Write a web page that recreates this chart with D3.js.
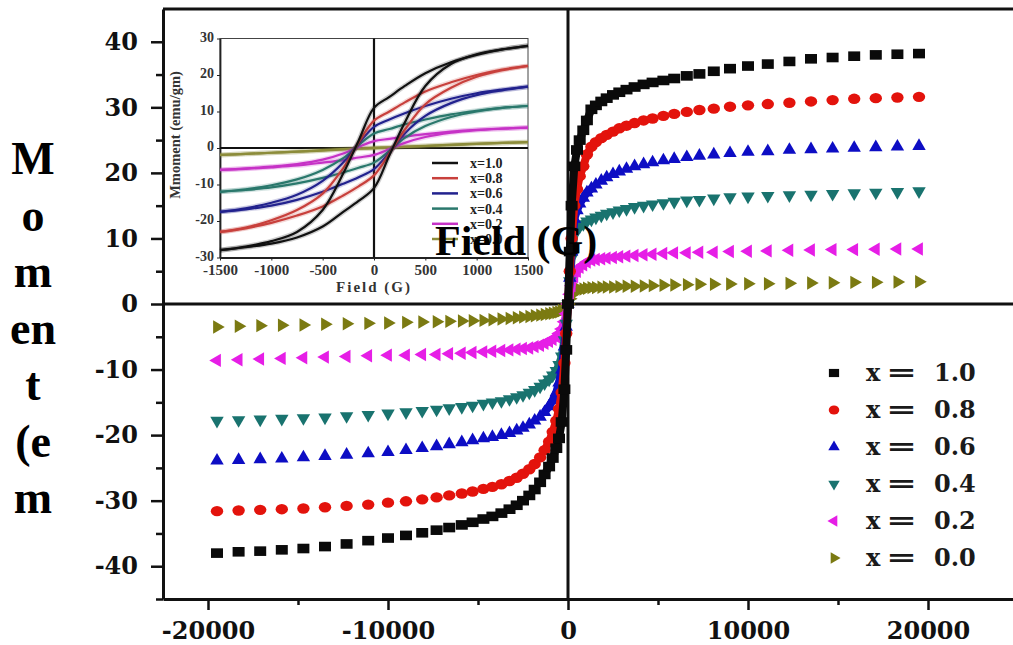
<!DOCTYPE html>
<html lang="en">
<head>
<meta charset="UTF-8">
<title>Moment vs Field</title>
<script src="https://cdnjs.cloudflare.com/ajax/libs/d3/7.8.5/d3.min.js"></script>
<style>
    body { margin: 0; background: #fff; }
    svg { display: block; }
    .axis path, .axis line { stroke: #111; }
    .axis text { font-family: "DejaVu Serif", serif; font-weight: bold; font-size: 24px; fill: #111; }
    .serif { font-family: "Liberation Serif", "Times New Roman", serif; font-weight: bold; }
    .inset-axis text { font-family: "Liberation Serif", serif; font-weight: bold; font-size: 14px; fill: #333; }
</style>
</head>
<body>
<svg id="chart" width="1013" height="645"></svg>
<script>
// main plot: field (G) and moment (emu/gm) for each composition
const fields = [-19500, -18300, -17100, -15900, -14700, -13500, -12300, -11100,
    -10000, -9000, -8100, -7300, -6600, -5900, -5300, -4700,
    -4200, -3700, -3250, -2850, -2500, -2150, -1850, -1550,
    -1300, -1050, -850, -650, -500, -350, -200, -100,
    0,
    100, 200, 350, 500, 650, 850, 1050, 1300,
    1550, 1850, 2150, 2500, 2850, 3250, 3700, 4200,
    4700, 5300, 5900, 6600, 7300, 8100, 9000, 10000,
    11100, 12300, 13500, 14700, 15900, 17100, 18300, 19500];

const momentX10 = [-38.0, -37.8, -37.7, -37.5, -37.3, -37.0, -36.6, -36.1,
    -35.7, -35.3, -34.9, -34.5, -34.1, -33.7, -33.3, -32.8,
    -32.4, -31.9, -31.3, -30.7, -30.0, -29.2, -28.3, -27.2,
    -26.0, -24.8, -23.5, -22.0, -20.5, -18.0, -13.0, -7.0,
    0,
    8, 15, 21, 23.5, 25, 26.5, 28, 29.7,
    30.3, 30.9, 31.4, 31.9, 32.3, 32.7, 33.1, 33.5,
    33.8, 34.1, 34.4, 34.8, 35.1, 35.5, 35.9, 36.3,
    36.6, 37.0, 37.4, 37.6, 37.8, 38.0, 38.1, 38.2];
const momentX08 = [-31.6, -31.5, -31.4, -31.3, -31.2, -31.0, -30.8, -30.6,
    -30.3, -30.1, -29.8, -29.5, -29.2, -28.9, -28.6, -28.2,
    -27.9, -27.5, -27.0, -26.5, -25.9, -25.2, -24.4, -23.4,
    -22.3, -21.0, -19.5, -17.8, -16.0, -13.5, -9.0, -4.5,
    0,
    5, 10, 15, 17.5, 19.5, 21, 22.8, 24,
    24.7, 25.3, 25.8, 26.3, 26.8, 27.2, 27.6, 28,
    28.3, 28.7, 29, 29.3, 29.6, 29.8, 30.1, 30.3,
    30.5, 30.7, 30.9, 31.1, 31.3, 31.4, 31.5, 31.6];
const momentX06 = [-23.9, -23.8, -23.7, -23.6, -23.4, -23.2, -23.0, -22.8,
    -22.6, -22.3, -22.0, -21.7, -21.4, -21.1, -20.8, -20.5,
    -20.3, -20.0, -19.7, -19.3, -18.9, -18.4, -17.8, -17.2,
    -16.5, -15.6, -14.7, -13.5, -12.0, -10.0, -6.5, -3.5,
    0,
    4, 8, 13, 14.3, 15.3, 16.2, 17, 17.6,
    18.2, 18.8, 19.3, 19.8, 20.2, 20.6, 21, 21.3,
    21.6, 21.9, 22.1, 22.4, 22.6, 22.8, 23, 23.2,
    23.3, 23.5, 23.6, 23.7, 23.8, 23.9, 24, 24.1];
const momentX04 = [-17.8, -17.7, -17.6, -17.5, -17.4, -17.3, -17.1, -16.9,
    -16.7, -16.5, -16.3, -16.1, -15.9, -15.7, -15.5, -15.2,
    -15.0, -14.8, -14.5, -14.2, -13.9, -13.5, -13.1, -12.6,
    -12.1, -11.5, -10.9, -10.2, -9.3, -8.0, -5.5, -3.0,
    0,
    3.5, 7, 10.5, 11.3, 11.8, 12.2, 12.6, 12.9,
    13.2, 13.5, 13.8, 14, 14.3, 14.5, 14.8, 15,
    15.2, 15.4, 15.6, 15.8, 15.9, 16.1, 16.3, 16.4,
    16.5, 16.6, 16.7, 16.8, 16.9, 17, 17.1, 17.2];
const momentX02 = [-8.6, -8.5, -8.4, -8.3, -8.2, -8.1, -8.0, -7.9,
    -7.8, -7.8, -7.7, -7.7, -7.6, -7.5, -7.4, -7.3,
    -7.2, -7.1, -7.0, -6.9, -6.8, -6.7, -6.5, -6.3,
    -6.0, -5.7, -5.4, -5.0, -4.5, -3.8, -2.7, -1.5,
    0,
    1.5, 2.8, 4.2, 5, 5.6, 6, 6.4, 6.7,
    6.8, 6.9, 7, 7.1, 7.2, 7.3, 7.4, 7.5,
    7.6, 7.7, 7.8, 7.8, 7.9, 7.9, 8, 8.05,
    8.1, 8.2, 8.25, 8.3, 8.3, 8.35, 8.4, 8.4];
const momentX00 = [-3.5, -3.4, -3.3, -3.25, -3.2, -3.1, -3.0, -2.95,
    -2.9, -2.8, -2.75, -2.7, -2.65, -2.6, -2.55, -2.5,
    -2.4, -2.3, -2.2, -2.1, -2.0, -1.9, -1.8, -1.7,
    -1.6, -1.5, -1.4, -1.3, -1.2, -1.0, -0.8, -0.5,
    0,
    0.8, 1.4, 1.9, 2.1, 2.2, 2.3, 2.4, 2.5,
    2.5, 2.55, 2.6, 2.6, 2.65, 2.7, 2.7, 2.75,
    2.8, 2.85, 2.9, 2.95, 3, 3, 3.05, 3.1,
    3.1, 3.15, 3.2, 3.25, 3.3, 3.3, 3.35, 3.4];

const compositions = ["1.0", "0.8", "0.6", "0.4", "0.2", "0.0"];
const markerColors = ["#0a0a0a", "#e3130c", "#0d0dc4", "#19736f", "#e61ee6", "#7b7a12"];
const markerShapes = ["square", "circle", "up", "down", "left", "right"];

const yTicks = [-40, -30, -20, -10, 0, 10, 20, 30, 40];
const yMinor = [-45, -35, -25, -15, -5, 5, 15, 25, 35];
const xTicks = [-20000, -10000, 0, 10000, 20000];
const xMinor = [-15000, -5000, 5000, 15000];

// inset: hysteresis loops in the low field range
const insetFieldDown = [1500, 1250, 1000, 750, 500, 300, 150, 0, -150, -300, -500, -750, -1000, -1250, -1500];
const insetFieldUp = [-1500, -1250, -1000, -750, -500, -300, -150, 0, 150, 300, 500, 750, 1000, 1250, 1500];
const loopDownX10 = [28, 27, 25.5, 23.5, 20.5, 17, 14, 11, 2, -7, -17, -23, -25.5, -27, -28];
const loopUpX10 = [-28, -27.2, -26.2, -24.5, -21.5, -17.5, -14.5, -11, -2, 7, 17, 23, 25.7, 27, 28];
const loopDownX08 = [22.5, 21.5, 20, 18, 15.5, 12.5, 10, 7.5, 1.5, -5.5, -12.5, -17, -19.8, -21.8, -23];
const loopUpX08 = [-23, -22, -20.5, -18.5, -16, -13, -10.5, -7.5, -1.5, 5, 12, 16.5, 19.5, 21.3, 22.5];
const loopDownX06 = [16.8, 16, 15, 13.5, 11.5, 9.5, 7.8, 5.8, 1.2, -4, -9, -12.8, -15, -16.5, -17.5];
const loopUpX06 = [-17.5, -16.8, -15.8, -14.2, -12, -9.8, -8, -5.8, -1.2, 4, 8.8, 12.3, 14.5, 15.8, 16.8];
const loopDownX04 = [11.5, 11, 10.2, 9.2, 7.8, 6.5, 5.2, 4, 0.8, -2.8, -6, -8.6, -10.2, -11.3, -12];
const loopUpX04 = [-12, -11.5, -10.8, -9.7, -8.2, -6.7, -5.4, -4, -0.8, 2.8, 6, 8.5, 10, 11, 11.5];
const loopDownX02 = [5.6, 5.3, 5, 4.5, 3.8, 3.1, 2.5, 1.9, 0.3, -1.5, -3.2, -4.4, -5.1, -5.6, -6];
const loopUpX02 = [-6, -5.7, -5.3, -4.8, -4, -3.3, -2.6, -1.9, -0.3, 1.4, 3, 4.2, 4.9, 5.3, 5.6];
const loopDownX00 = [1.6, 1.4, 1.2, 0.9, 0.6, 0.4, 0.2, 0.1, -0.1, -0.3, -0.6, -1, -1.3, -1.6, -1.9];
const loopUpX00 = [-1.9, -1.6, -1.3, -1, -0.7, -0.4, -0.2, -0.1, 0.1, 0.3, 0.5, 0.8, 1.1, 1.4, 1.6];

const insetColors = ["#111111", "#c8403c", "#22228e", "#2a786c", "#c632c6", "#8c8c3a"];
const insetYTicks = [-30, -20, -10, 0, 10, 20, 30];
const insetXTicks = [-1500, -1000, -500, 0, 500, 1000, 1500];

const mainMoments = [momentX10, momentX08, momentX06, momentX04, momentX02, momentX00];
const loopsDown = [loopDownX10, loopDownX08, loopDownX06, loopDownX04, loopDownX02, loopDownX00];
const loopsUp = [loopUpX10, loopUpX08, loopUpX06, loopUpX04, loopUpX02, loopUpX00];

const plain = d => String(d);   // keep "-20000" style labels

const svg = d3.select("#chart");
svg.append("rect").attr("width", 1013).attr("height", 645).attr("fill", "#fff");

const x = d3.scaleLinear().domain([-22500, 25000]).range([163, 1018]);
const y = d3.scaleLinear().domain([-45, 45]).range([599, 9]);

// frame lines
svg.append("line").attr("x1", 163).attr("x2", 1013).attr("y1", 9).attr("y2", 9)
    .attr("stroke", "#111").attr("stroke-width", 3);

// minor ticks first
svg.append("g").attr("class", "axis").attr("transform", "translate(163,0)")
    .call(d3.axisLeft(y).tickValues(yMinor).tickSize(7).tickFormat("").tickSizeOuter(0))
    .call(g => g.selectAll("line").attr("stroke-width", 2.5))
    .call(g => g.select(".domain").remove());
svg.append("g").attr("class", "axis").attr("transform", "translate(0,599)")
    .call(d3.axisBottom(x).tickValues(xMinor).tickSize(6).tickFormat("").tickSizeOuter(0))
    .call(g => g.selectAll("line").attr("stroke-width", 2.5))
    .call(g => g.select(".domain").remove());

const yAxis = svg.append("g").attr("class", "axis").attr("transform", "translate(163,0)")
    .call(d3.axisLeft(y).tickValues(yTicks).tickFormat(plain).tickSize(12).tickPadding(13).tickSizeOuter(0));
yAxis.selectAll("line").attr("stroke-width", 2.5);
yAxis.select(".domain").attr("stroke-width", 3);

const xAxis = svg.append("g").attr("class", "axis").attr("transform", "translate(0,599)")
    .call(d3.axisBottom(x).tickValues(xTicks).tickFormat(plain).tickSize(11).tickPadding(12).tickSizeOuter(0));
xAxis.selectAll("line").attr("stroke-width", 2.5);
xAxis.select(".domain").attr("stroke-width", 3);

// zero lines
svg.append("line").attr("x1", 163).attr("x2", 1013).attr("y1", y(0)).attr("y2", y(0))
    .attr("stroke", "#111").attr("stroke-width", 3);
svg.append("line").attr("x1", x(0)).attr("x2", x(0)).attr("y1", 9).attr("y2", 599)
    .attr("stroke", "#111").attr("stroke-width", 3);

function symbolPath(shape, size) {
    const rot = {up: 0, down: 180, left: -90, right: 90}[shape];
    return {d: d3.symbol(d3.symbolTriangle, size)(), rot: rot};
}

function drawMarker(g, shape, color, cx, cy, scale) {
    if (shape === "square") {
        g.append("rect").attr("x", cx - 6 * scale).attr("y", cy - 4.8 * scale)
            .attr("width", 12 * scale).attr("height", 9.6 * scale).attr("fill", color);
    } else if (shape === "circle") {
        g.append("ellipse").attr("cx", cx).attr("cy", cy)
            .attr("rx", 6.2 * scale).attr("ry", 5.2 * scale).attr("fill", color);
    } else {
        const s = symbolPath(shape, 78 * scale * scale);
        g.append("path").attr("d", s.d)
            .attr("transform", `translate(${cx},${cy}) rotate(${s.rot})`)
            .attr("fill", color);
    }
}

// main series, drawn from x = 0.0 up to x = 1.0
const lineNear = d3.line()
    .defined(d => Math.abs(d.h) <= 1300)
    .x(d => x(d.h)).y(d => y(d.m));

for (let i = compositions.length - 1; i >= 0; i--) {
    const pts = fields.map((h, j) => ({h: h, m: mainMoments[i][j]}));
    const g = svg.append("g");
    g.append("path").datum(pts).attr("d", lineNear)
        .attr("fill", "none").attr("stroke", markerColors[i])
        .attr("stroke-width", 8).attr("stroke-linejoin", "round");
    pts.forEach(p => drawMarker(g, markerShapes[i], markerColors[i], x(p.h), y(p.m), 1));
}

// legend
const legend = svg.append("g");
compositions.forEach((c, i) => {
    const cy = 373 + i * 37;
    drawMarker(legend, markerShapes[i], markerColors[i], 834, cy, 0.85);
    legend.append("text").attr("x", 866).attr("y", cy).attr("dy", "0.35em")
        .style("font-family", "DejaVu Serif").style("font-weight", "bold").style("font-size", "24px")
        .attr("fill", "#1a1a1a").text("x");
    legend.append("text").attr("x", 886).attr("y", cy).attr("dy", "0.35em")
        .attr("textLength", 31).attr("lengthAdjust", "spacingAndGlyphs")
        .style("font-family", "DejaVu Serif").style("font-weight", "bold").style("font-size", "24px")
        .attr("fill", "#1a1a1a").text("=");
    legend.append("text").attr("x", 934).attr("y", cy).attr("dy", "0.35em")
        .style("font-family", "DejaVu Serif").style("font-weight", "bold").style("font-size", "24px")
        .attr("fill", "#1a1a1a").text(c);
});

// inset
const ix = d3.scaleLinear().domain([-1500, 1500]).range([220, 528]);
const iy = d3.scaleLinear().domain([-30, 30]).range([257.5, 38.5]);
const inset = svg.append("g");
inset.append("rect").attr("x", 170).attr("y", 18).attr("width", 362).attr("height", 282).attr("fill", "#fff");
inset.append("rect").attr("x", 220).attr("y", 38.5).attr("width", 308).attr("height", 219)
    .attr("fill", "none").attr("stroke", "#444").attr("stroke-width", 1);

inset.append("g").attr("class", "inset-axis").attr("transform", "translate(220,0)")
    .call(d3.axisLeft(iy).tickValues(insetYTicks).tickFormat(plain).tickSize(3).tickPadding(3).tickSizeOuter(0))
    .call(g => g.select(".domain").attr("stroke", "#222").attr("stroke-width", 1.8))
    .call(g => g.selectAll("line").attr("stroke", "#222"))
    .call(g => g.selectAll("text").attr("dy", "0.2em"));
inset.append("g").attr("class", "inset-axis").attr("transform", "translate(0,257.5)")
    .call(d3.axisBottom(ix).tickValues(insetXTicks).tickFormat(plain).tickSize(3).tickPadding(4).tickSizeOuter(0))
    .call(g => g.select(".domain").attr("stroke", "#222").attr("stroke-width", 1.8))
    .call(g => g.selectAll("line").attr("stroke", "#222"))
    .call(g => g.selectAll("text").style("font-size", "15px"));

inset.append("line").attr("x1", 220).attr("x2", 528).attr("y1", iy(0)).attr("y2", iy(0))
    .attr("stroke", "#111").attr("stroke-width", 2.2);
inset.append("line").attr("x1", ix(0)).attr("x2", ix(0)).attr("y1", 38.5).attr("y2", 257.5)
    .attr("stroke", "#111").attr("stroke-width", 2.2);

const loopLine = d3.line().x(d => ix(d.h)).y(d => iy(d.m)).curve(d3.curveCatmullRom.alpha(0.5));
for (let i = compositions.length - 1; i >= 0; i--) {
    const down = insetFieldDown.map((h, j) => ({h: h, m: loopsDown[i][j]}));
    const up = insetFieldUp.map((h, j) => ({h: h, m: loopsUp[i][j]}));
    [down, up].forEach(branch => {
        inset.append("path").datum(branch).attr("d", loopLine)
            .attr("fill", "none").attr("stroke", insetColors[i])
            .attr("stroke-width", 5).attr("stroke-opacity", 0.2);
        inset.append("path").datum(branch).attr("d", loopLine)
            .attr("fill", "none").attr("stroke", insetColors[i]).attr("stroke-width", 2.2);
    });
}

compositions.forEach((c, i) => {
    const cy = 163 + i * 15.2;
    inset.append("line").attr("x1", 432).attr("x2", 458).attr("y1", cy).attr("y2", cy)
        .attr("stroke", insetColors[i]).attr("stroke-width", 2.5);
    inset.append("text").attr("class", "serif").attr("x", 470).attr("y", cy).attr("dy", "0.35em")
        .style("font-size", "14px").attr("fill", "#222").text("x=" + c);
});

inset.append("text").attr("class", "serif").attr("x", 374).attr("y", 292)
    .attr("text-anchor", "middle").style("font-size", "15px").style("letter-spacing", "2px")
    .attr("fill", "#333").text("Field (G)");
inset.append("text").attr("class", "serif")
    .attr("transform", "translate(180,135) rotate(-90)")
    .attr("text-anchor", "middle").style("font-size", "14.5px").attr("fill", "#333")
    .text("Mmoment (emu/gm)");

// main axis titles
svg.append("text").attr("class", "serif").attr("x", 435).attr("y", 255)
    .style("font-size", "42px").attr("fill", "#000").text("Field (G)");

const yLabelLines = ["M", "o", "m", "en", "t", "(e", "m"];
const yLabel = svg.append("text").attr("class", "serif")
    .attr("text-anchor", "middle").style("font-size", "46px").attr("fill", "#000");
yLabelLines.forEach((s, i) => {
    yLabel.append("tspan").attr("x", 33).attr("y", 174 + i * 56.5).text(s);
});
</script>
</body>
</html>
